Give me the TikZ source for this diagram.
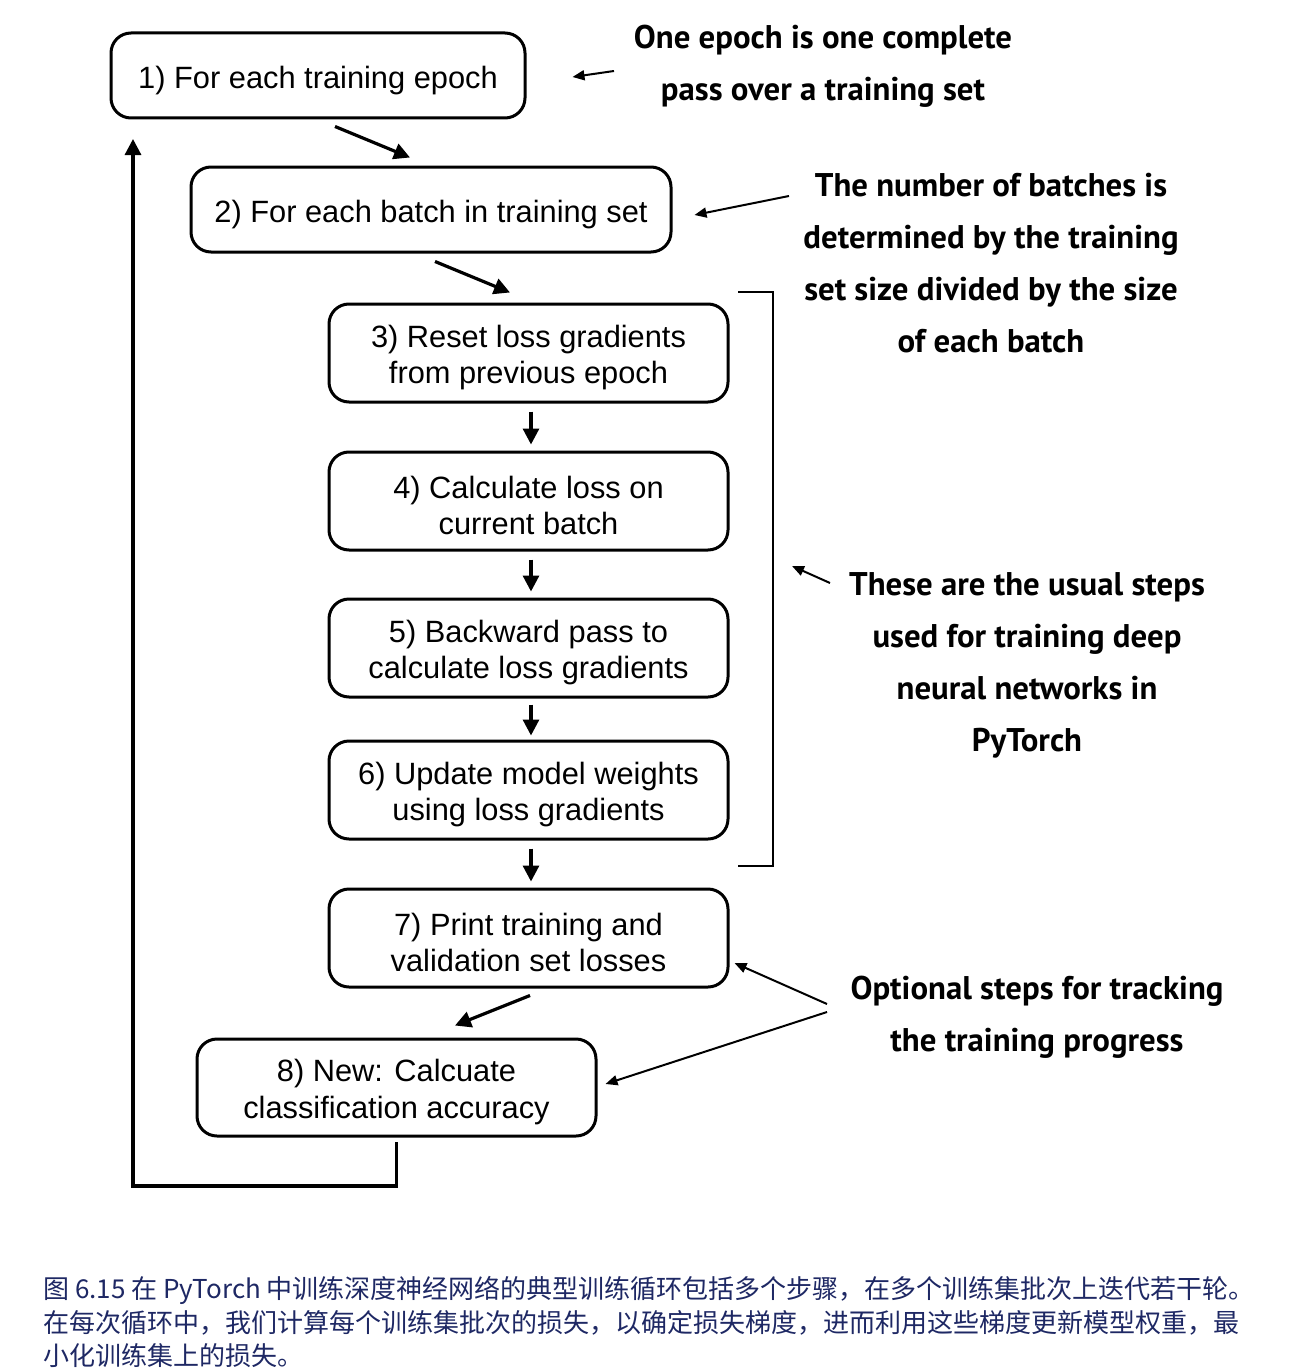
\documentclass[tikz,border=0pt]{standalone}
\usepackage{fontspec}
\setmainfont{Liberation Sans}
\newfontfamily\annfont{PT Sans}
\newfontfamily\cjk{Noto Sans CJK SC}
\usetikzlibrary{arrows.meta,calc}
\definecolor{capblue}{RGB}{30,40,100}
\begin{document}
\begin{tikzpicture}[x=0.5pt,y=-0.5pt,
  stepbox/.style={draw,line width=1.5pt,rounded corners=10pt,inner sep=0pt},
  boxtext/.style={align=center,font=\fontsize{15.4}{18.2}\selectfont,inner sep=0pt,yshift=-2.3pt},
  flow/.style={line width=1.6pt,-{Triangle[length=8pt,width=8pt]}},
  note/.style={align=center,font=\annfont\bfseries\fontsize{16.4}{26}\selectfont,inner sep=0pt},
  pointer/.style={line width=1pt,-{Triangle[length=6pt,width=5pt]}}]
\useasboundingbox (0,0) rectangle (1305,1370);
% boxes
\node[stepbox,minimum width=207pt,minimum height=42.5pt,label={[boxtext]center:1) For each training epoch}] (b1) at (318,75.5) {};
\node[stepbox,minimum width=240pt,minimum height=42.5pt,label={[boxtext]center:2) For each batch in training set}] (b2) at (431,209.5) {};
\node[stepbox,minimum width=199.5pt,minimum height=49pt,label={[boxtext]center:3) Reset loss gradients\\from previous epoch}] (b3) at (528.5,353) {};
\node[stepbox,minimum width=199.5pt,minimum height=49pt,label={[boxtext]center:4) Calculate loss on\\current batch}] (b4) at (528.5,501) {};
\node[stepbox,minimum width=199.5pt,minimum height=49pt,label={[boxtext]center:5) Backward pass to\\calculate loss gradients}] (b5) at (528.5,648) {};
\node[stepbox,minimum width=199.5pt,minimum height=49pt,label={[boxtext]center:6) Update model weights\\using loss gradients}] (b6) at (528.5,790) {};
\node[stepbox,minimum width=199.5pt,minimum height=49pt,label={[boxtext]center:7) Print training and\\validation set losses}] (b7) at (528.5,938) {};
\node[stepbox,minimum width=199.5pt,minimum height=48.5pt,label={[boxtext]center:8) New: Calcuate\\classification accuracy}] (b8) at (396.5,1087.5) {};
% flow arrows
\draw[flow] ([xshift=8.5pt,yshift=-3.5pt]b1.south) -- ([xshift=-10.5pt,yshift=4pt]b2.north);
\draw[flow] ([xshift=2pt,yshift=-4pt]b2.south) -- ([xshift=-9.25pt,yshift=5pt]b3.north);
\draw[flow,shorten <=4pt,shorten >=3pt] ([xshift=1.25pt]b3.south) -- ([xshift=1.25pt]b4.north);
\draw[flow,shorten <=4pt,shorten >=3pt] ([xshift=1.25pt]b4.south) -- ([xshift=1.25pt]b5.north);
\draw[flow,shorten <=3pt,shorten >=2pt] ([xshift=1.25pt]b5.south) -- ([xshift=1.25pt]b6.north);
\draw[flow,shorten <=4pt,shorten >=3pt] ([xshift=1.25pt]b6.south) -- ([xshift=1.25pt]b7.north);
\draw[flow] ([xshift=0.75pt,yshift=-3.5pt]b7.south) -- ([xshift=29.25pt,yshift=6pt]b8.north);
% loop back
\coordinate (loopcorner) at (133,1186);
\coordinate (loopend) at (133,139);
\draw[flow,line cap=rect] ([yshift=-3pt]b8.south) |- (loopcorner) -- (loopend);
% annotations
\node[note] (a1) at (823,66) {One epoch is one complete\\pass over a training set};
\node[note] (a2) at (991,263) {The number of batches is\\determined by the training\\set size divided by the size\\of each batch};
\node[note] (a3) at (1027,665) {These are the usual steps\\used for training deep\\neural networks in\\PyTorch};
\node[note] (a4) at (1037,1017) {Optional steps for tracking\\the training progress};
\coordinate (t1) at (614,71);
\coordinate (t2) at (789,196);
\coordinate (t3) at (830,583);
\coordinate (t3h) at (792,566);
\coordinate (t4a) at (827,1004);
\coordinate (t4b) at (827,1012);
\draw[pointer] (t1) -- ([xshift=23pt,yshift=-0.75pt]b1.east);
\draw[pointer] (t2) -- ([xshift=11pt,yshift=-2.75pt]b2.east);
\draw[line width=1pt] (738,292) -- (773,292) -- (773,866) -- (738,866);
\draw[pointer] (t3) -- (t3h);
\draw[pointer] (t4a) -- ([xshift=2.5pt,yshift=-12.5pt]b7.east);
\draw[pointer] (t4b) -- ([xshift=4pt,yshift=1.75pt]b8.east);
% caption
\node[anchor=north west,inner sep=0pt,align=left,text=capblue,
  font=\cjk\fontsize{13}{16.75}\selectfont] (cap) at (43,1276)
  {图 6.15 在 PyTorch 中训练深度神经网络的典型训练循环包括多个步骤，在多个训练集批次上迭代若干轮。\\
   在每次循环中，我们计算每个训练集批次的损失，以确定损失梯度，进而利用这些梯度更新模型权重，最\\
   小化训练集上的损失。};
\end{tikzpicture}
\end{document}
